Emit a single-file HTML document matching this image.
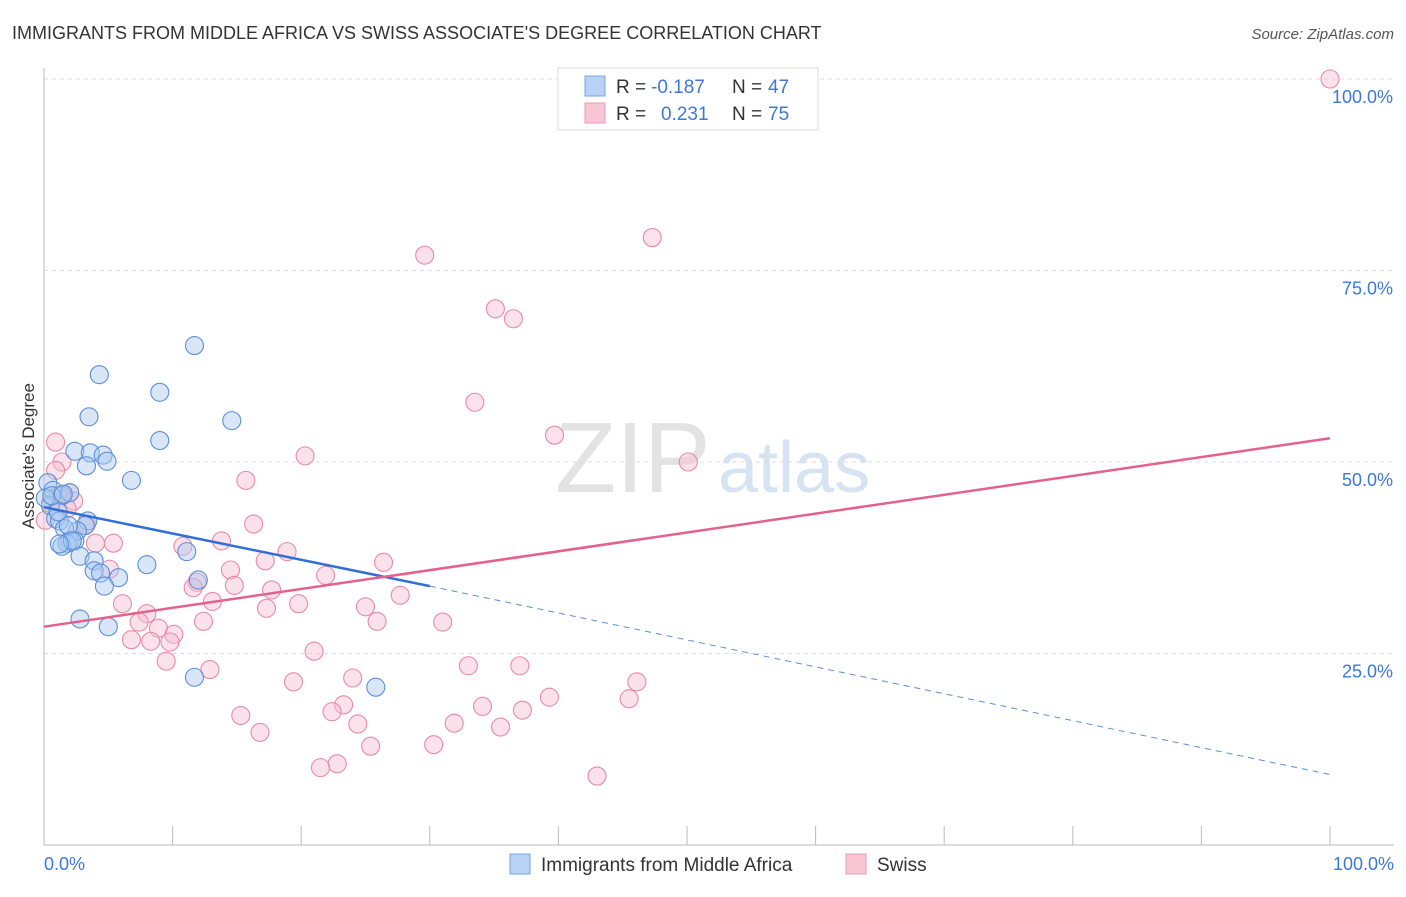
<!DOCTYPE html>
<html><head><meta charset="utf-8">
<style>
body{margin:0;background:#fff;font-family:"Liberation Sans",sans-serif;}
svg text{font-family:"Liberation Sans",sans-serif;}
</style></head>
<body>
<svg id="chart" width="1406" height="892" xmlns="http://www.w3.org/2000/svg">
<text x="12" y="39" font-size="18" fill="#333">IMMIGRANTS FROM MIDDLE AFRICA VS SWISS ASSOCIATE'S DEGREE CORRELATION CHART</text>
<text x="1394" y="39" font-size="15" fill="#555" text-anchor="end" font-style="italic">Source: ZipAtlas.com</text>
<text x="555" y="492" font-size="100" fill="#d8d8d8" font-family="Liberation Serif" opacity="0.7">ZIP</text>
<text x="718" y="492" font-size="72" fill="#c5d8ef" opacity="0.7">atlas</text>
<g id="grid"></g>
<g id="axes"></g>
<g id="points"></g>
<g id="trends"></g>
<text transform="translate(34,456) rotate(-90)" font-size="17" fill="#333" text-anchor="middle">Associate's Degree</text>
<text x="44" y="870" font-size="18" fill="#3b78d8">0.0%</text>
<text x="1394" y="870" font-size="18" fill="#3b78d8" text-anchor="end">100.0%</text>
<g>
<rect x="558" y="68" width="260" height="62" fill="#fff" stroke="#ddd"/>
<rect x="585" y="76" width="20" height="20" fill="#b7d2f5" stroke="#7aa6e0"/>
<rect x="585" y="103" width="20" height="20" fill="#f9c6d6" stroke="#eb9ab3"/>
<text x="616" y="93" font-size="19" fill="#333">R =</text>
<text x="651" y="93" font-size="19" fill="#3b78d8">-0.187</text>
<text x="732" y="93" font-size="19" fill="#333">N =</text>
<text x="768" y="93" font-size="19" fill="#3b78d8">47</text>
<text x="616" y="120" font-size="19" fill="#333">R =</text>
<text x="661" y="120" font-size="19" fill="#3b78d8">0.231</text>
<text x="732" y="120" font-size="19" fill="#333">N =</text>
<text x="768" y="120" font-size="19" fill="#3b78d8">75</text>
</g>
<g>
<rect x="510" y="854" width="20" height="20" fill="#b7d2f5" stroke="#7aa6e0"/>
<text x="541" y="871" font-size="19" fill="#333">Immigrants from Middle Africa</text>
<rect x="846" y="854" width="20" height="20" fill="#f9c6d6" stroke="#eb9ab3"/>
<text x="877" y="871" font-size="19" fill="#333">Swiss</text>
</g>
</svg>
<script>
const yTicks=[25,50,75,100];
const yTickLabels=["25.0%","50.0%","75.0%","100.0%"];
const xTicks=[0,10,20,30,40,50,60,70,80,90,100];
const blueX=[11.7,4.3,9.0,3.5,14.6,9.0,2.4,3.6,4.6,3.3,4.9,6.8,0.3,0.7,1.4,2.0,0.5,0.9,1.2,3.4,3.2,2.6,1.6,2.0,1.8,1.4,2.4,2.8,3.9,3.9,4.4,5.8,4.7,8.0,11.1,12.0,2.8,5.0,11.7,25.8,0.1,1.9,2.2,1.1,0.6,1.5,1.2];
const blueY=[65.2,61.4,59.1,55.9,55.4,52.8,51.4,51.2,50.9,49.5,50.1,47.6,47.3,46.3,45.6,46.0,44.3,42.6,42.3,42.3,41.7,41.0,41.3,39.7,39.4,39.0,39.7,37.7,37.1,35.8,35.5,34.9,33.8,36.6,38.3,34.6,29.5,28.5,21.9,20.6,45.3,41.7,39.7,43.5,45.6,45.8,39.3];
const pinkX=[100,47.3,29.6,35.1,36.5,33.5,39.7,0.9,1.4,50.1,20.3,15.7,2.0,1.1,2.3,16.3,3.3,0.1,13.8,10.8,4.0,5.4,18.9,17.2,26.4,14.5,21.9,11.9,14.8,11.6,17.7,27.7,13.1,6.1,19.8,17.3,25.0,8.0,7.4,25.9,31.0,8.9,10.1,12.4,6.8,8.3,9.8,21.0,9.5,12.9,33.0,37.0,24.0,19.4,46.1,39.3,45.5,23.3,34.1,22.4,37.2,15.3,31.9,24.4,35.5,16.8,25.4,30.3,22.8,21.5,43.0,0.9,0.5,1.8,5.1];
const pinkY=[100,79.3,77.0,70.0,68.7,57.8,53.5,52.6,50.0,50.0,50.8,47.6,46.0,45.6,44.9,41.9,41.9,42.4,39.7,39.0,39.4,39.4,38.3,37.1,36.9,35.9,35.2,34.3,33.9,33.6,33.3,32.6,31.8,31.5,31.5,30.9,31.1,30.2,29.1,29.2,29.1,28.3,27.5,29.2,26.8,26.6,26.5,25.3,24.0,22.9,23.4,23.4,21.8,21.3,21.3,19.3,19.1,18.3,18.1,17.4,17.6,16.9,15.9,15.8,15.4,14.7,12.9,13.1,10.6,10.1,9.0,48.9,44.6,43.9,36.0];
const blueTrend=[[0,44.1],[30,33.8],[100,9.2]];
const pinkTrend=[[0,28.5],[100,53.1]];
const NS="http://www.w3.org/2000/svg";
const X=v=>44+v*12.86, Y=v=>845-v*7.66;
function mk(tag,attrs,parent){const e=document.createElementNS(NS,tag);for(const k in attrs)e.setAttribute(k,attrs[k]);document.getElementById(parent).appendChild(e);return e;}
yTicks.forEach((t,i)=>{
  const g=mk('line',{x1:44,x2:1394,y1:Y(t),y2:Y(t),stroke:'#ddd','stroke-dasharray':'4,4'},'grid');
  
  
  const l=mk('text',{x:1393,y:Y(t)+24,'font-size':18,fill:'#3b78d8','text-anchor':'end'},'grid');
  l.textContent=yTickLabels[i];
  
  
});
const ax=mk('line',{x1:44,x2:1394,y1:845,y2:845,stroke:'#bbb'},'axes');


const ay=mk('line',{x1:44,x2:44,y1:68,y2:845,stroke:'#bbb'},'axes');


xTicks.forEach(t=>{
  const e=mk('line',{x1:X(t),x2:X(t),y1:826,y2:845,stroke:'#bbb'},'axes');
  
  
});
function pts(xs,ys,fill,stroke,name){
  xs.forEach((x,i)=>{
    const c=mk('circle',{cx:X(x),cy:Y(ys[i]),r:9,fill:fill,'fill-opacity':0.45,stroke:stroke,'stroke-width':1.1},'points');
    
    
  });
}
pts(pinkX,pinkY,'#f7bcd0','#e88aa8','swiss-point');
pts(blueX,blueY,'#a9c8f0','#5b8fd8','middle-africa-point');
const b1=mk('line',{x1:X(blueTrend[0][0]),y1:Y(blueTrend[0][1]),x2:X(blueTrend[1][0]),y2:Y(blueTrend[1][1]),stroke:'#2f6fd6','stroke-width':2.5},'trends');


const b2=mk('line',{x1:X(blueTrend[1][0]),y1:Y(blueTrend[1][1]),x2:X(blueTrend[2][0]),y2:Y(blueTrend[2][1]),stroke:'#5b8fd8','stroke-width':1,'stroke-dasharray':'6,5'},'trends');


const p1=mk('line',{x1:X(pinkTrend[0][0]),y1:Y(pinkTrend[0][1]),x2:X(pinkTrend[1][0]),y2:Y(pinkTrend[1][1]),stroke:'#e5608e','stroke-width':2.5},'trends');


</script>
</body></html>
